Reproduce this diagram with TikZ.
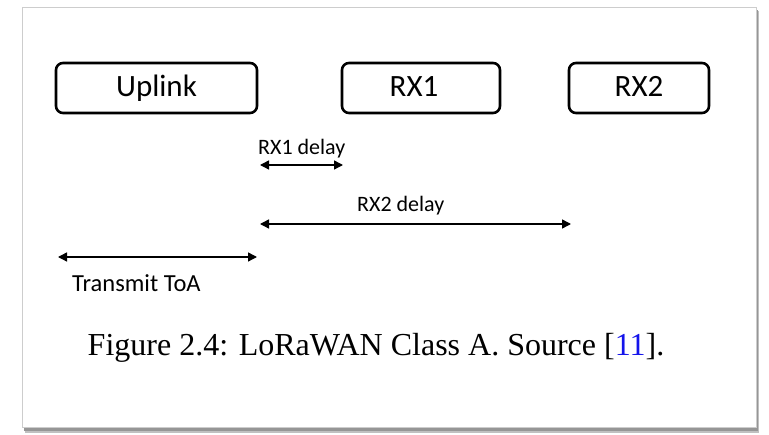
\documentclass[tikz,border=0pt]{standalone}
\usepackage{fontspec}
\setmainfont{Carlito}
\newfontfamily\capfont{Liberation Serif}
\usetikzlibrary{arrows.meta}
\definecolor{citeblue}{RGB}{20,20,235}
\definecolor{framegrey}{RGB}{205,205,205}
\definecolor{shadowgrey}{RGB}{150,150,150}
\tikzset{
  slot/.style={draw=black, line width=2.6pt, rounded corners=7pt, minimum width=201pt,
    minimum height=50pt, inner sep=0pt},
  slottext/.style={inner sep=0pt, anchor=base, font=\fontsize{31}{31}\selectfont},
  span/.style={line width=1.4pt, {Triangle[length=9pt,width=9pt]}-{Triangle[length=9pt,width=9pt]}},
  lbl/.style={inner sep=0pt, anchor=base west, font=\fontsize{22}{22}\selectfont}
}
\begin{document}
\begin{tikzpicture}[x=1pt, y=-1pt]
\useasboundingbox (0,0) rectangle (769,435);
\fill[white] (0,0) rectangle (769,435);
% framed panel with a soft shadow on the lower right
\fill[shadowgrey!60] (25,11) rectangle (759,433);
\fill[shadowgrey] (24,428) rectangle (758,431);
\fill[shadowgrey] (755,10) rectangle (758,431);
\filldraw[fill=white, draw=framegrey, line width=1pt] (22,8) rectangle (756,428);

% time slots
\node[slot] (up) at (156.5,88) {};
\node[slot, minimum width=158pt] (rx1) at (421,88) {};
\node[slot, minimum width=140pt] (rx2) at (639,88) {};
\node[slottext] (upt) at (156.5,97) {Uplink};
\node[slottext] (rx1t) at (414,97) {RX1};
\node[slottext] (rx2t) at (639,97) {RX2};

% interval marks
\coordinate (t0) at (58,257);
\coordinate (t1) at (257,257);
\coordinate (d1s) at (260,165);
\coordinate (d1e) at (343,165);
\coordinate (d2s) at (260,224);
\coordinate (d2e) at (571,224);
\draw[span] (t0) -- (t1);
\draw[span] (d1s) -- (d1e);
\draw[span] (d2s) -- (d2e);

\node[lbl] (l1) at (258,155) {RX1 delay};
\node[lbl] (l2) at (357,212) {RX2 delay};
\node[lbl, font=\fontsize{24.5}{24.5}\selectfont] (l0) at (72,292) {Transmit ToA};

% caption
\node[inner sep=0pt, anchor=base, font=\capfont\fontsize{32}{32}\selectfont] (cap) at (376,356)
  {Figure 2.4: LoRaWAN Class A. Source [\textcolor{citeblue}{11}].};
\end{tikzpicture}
\end{document}
